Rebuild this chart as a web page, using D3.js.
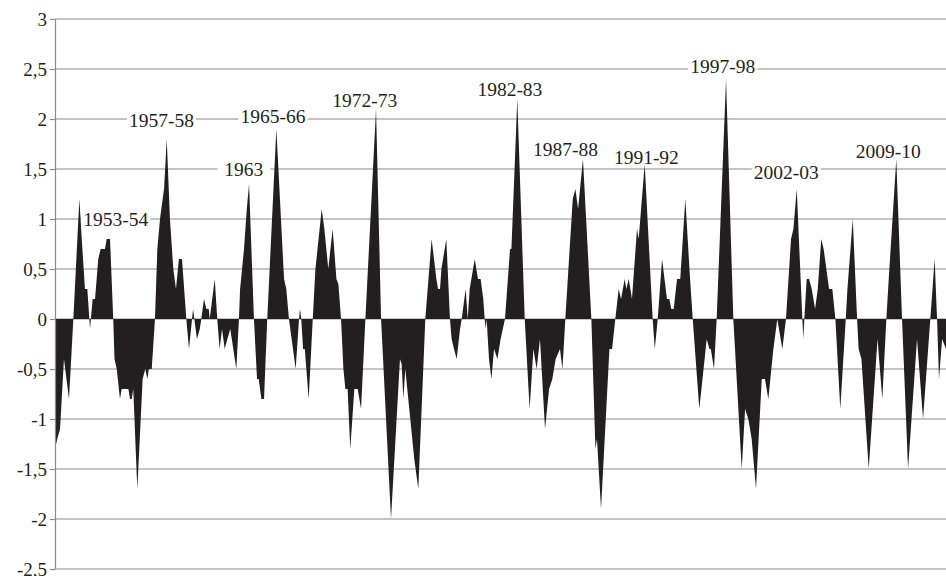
<!DOCTYPE html>
<html>
<head>
<meta charset="utf-8">
<script src="https://cdn.jsdelivr.net/npm/d3@7"></script>
<style>
  html, body { margin: 0; padding: 0; background: #fff; }
  svg { display: block; }
  svg text { font-family: "Liberation Serif", "Times New Roman", serif; }
</style>
</head>
<body>
<svg id="chart" width="946" height="576"></svg>
<script>
// ---- data (time in decimal years, anomaly values) ----
const years = [
  1950.00,1950.16,1950.36,1950.64,1951.00,1951.31,1951.74,1951.91,1952.14,1952.31,
  1952.50,1952.69,1952.86,1953.09,1953.26,1953.57,1953.69,1953.93,1954.16,1954.25,
  1954.41,1954.64,1954.76,1955.24,1955.36,1955.48,1955.59,1955.88,1956.26,1956.45,
  1956.60,1956.70,1956.91,1957.14,1957.31,1957.50,1957.69,1957.79,1957.98,1958.21,
  1958.45,1958.64,1958.85,1959.07,1959.38,1959.57,1959.86,1960.14,1960.34,1960.45,
  1960.64,1960.81,1960.98,1961.05,1961.41,1961.59,1961.76,1961.93,1962.12,1962.31,
  1962.52,1962.95,1963.14,1963.22,1963.50,1963.70,1963.86,1964.21,1964.43,1964.55,
  1964.74,1964.93,1965.16,1965.81,1966.36,1966.52,1966.71,1967.19,1967.43,1967.50,
  1967.59,1967.72,1967.84,1968.12,1968.41,1968.60,1969.05,1969.24,1969.52,1969.83,
  1970.10,1970.24,1970.43,1970.60,1970.74,1970.90,1971.09,1971.38,1971.62,1971.86,
  1972.17,1972.93,1973.29,1974.00,1974.64,1974.76,1974.88,1975.02,1975.66,1975.95,
  1976.45,1976.90,1977.07,1977.24,1977.36,1977.50,1977.60,1977.95,1978.21,1978.33,
  1978.50,1978.69,1978.93,1979.05,1979.33,1979.48,1979.62,1979.98,1980.21,1980.40,
  1980.59,1980.69,1980.76,1980.83,1981.00,1981.17,1981.36,1981.60,1981.83,1982.14,
  1982.50,1982.60,1983.02,1983.55,1983.90,1984.17,1984.40,1984.64,1985.00,1985.29,
  1985.52,1985.76,1986.07,1986.24,1986.33,1986.45,1986.98,1987.17,1987.36,1987.71,
  1988.31,1988.60,1988.71,1989.00,1989.60,1989.79,1990.02,1990.26,1990.43,1990.69,
  1990.81,1990.98,1991.21,1991.57,1991.69,1992.12,1992.69,1992.84,1993.05,1993.36,
  1993.71,1993.88,1994.02,1994.19,1994.43,1994.66,1995.02,1995.36,1995.55,1996.02,
  1996.55,1996.74,1996.84,1997.07,1997.26,1997.93,1998.45,1999.05,1999.29,1999.52,
  1999.76,2000.07,2000.48,2000.71,2000.95,2001.31,2001.59,2001.95,2002.21,2002.57,
  2002.74,2002.98,2003.38,2003.45,2003.52,2003.69,2003.86,2004.05,2004.29,2004.48,
  2004.73,2004.90,2005.29,2005.52,2005.74,2006.09,2006.48,2006.60,2006.98,2007.29,
  2007.40,2007.60,2008.12,2008.75,2009.09,2009.38,2009.55,2010.09,2010.50,2010.93,
  2011.57,2012.00,2012.52,2012.83,2013.00,2013.14,2013.36,2013.64
];
const values = [
  -1.3,-1.2,-1.1,-0.4,-0.8,0,1.2,0.8,0.3,0.3,
  -0.1,0.2,0.2,0.6,0.7,0.7,0.8,0.8,0,-0.4,
  -0.5,-0.8,-0.7,-0.7,-0.8,-0.8,-0.7,-1.7,-0.6,-0.5,
  -0.6,-0.5,-0.5,0,0.7,1.0,1.2,1.3,1.8,1.0,
  0.5,0.3,0.6,0.6,0,-0.3,0.1,-0.2,-0.1,0,
  0.2,0.1,0.1,0,0.4,0,-0.3,-0.1,-0.3,-0.2,
  -0.1,-0.5,0,0.3,0.7,1.1,1.35,0,-0.6,-0.6,
  -0.8,-0.8,0,1.9,0.4,0.3,0,-0.5,0,0.1,
  0,-0.3,-0.3,-0.8,0,0.5,1.1,0.9,0.5,0.9,
  0.4,0.35,0,-0.5,-0.7,-0.7,-1.3,-0.7,-0.7,-0.9,
  0,2.1,0,-2.0,-0.4,-0.45,-0.8,-0.5,-1.4,-1.7,
  0,0.8,0.6,0.4,0.3,0.3,0.5,0.8,0,-0.2,
  -0.3,-0.4,-0.1,0,0.3,0,0.3,0.6,0.4,0.4,
  0.2,0,-0.1,0,-0.4,-0.6,-0.3,-0.4,-0.2,0,
  0.7,0.7,2.2,0,-0.9,-0.3,-0.5,-0.2,-1.1,-0.7,
  -0.6,-0.4,-0.3,-0.5,-0.3,0,1.2,1.3,1.1,1.6,
  0,-1.3,-1.2,-1.9,-0.3,-0.3,0,0.3,0.2,0.4,
  0.3,0.4,0.2,0.9,0.8,1.55,0,-0.3,0,0.6,
  0.2,0.2,0.1,0.1,0.4,0.4,1.2,0.4,0,-0.9,
  -0.2,-0.3,-0.3,-0.5,0,2.4,0,-1.5,-0.9,-1.0,
  -1.2,-1.7,-0.6,-0.6,-0.8,-0.3,0,-0.3,0,0.8,
  0.9,1.3,0,-0.2,0,0.4,0.4,0.3,0.1,0.3,
  0.8,0.7,0.3,0.3,0,-0.9,0,0.3,1.0,0,
  -0.3,-0.4,-1.5,-0.2,-0.8,0,0.4,1.6,0,-1.5,
  -0.2,-1.0,0,0.6,0,-0.6,-0.2,-0.3
];
const yTicks = [-2.5, -2, -1.5, -1, -0.5, 0, 0.5, 1, 1.5, 2, 2.5, 3];

// event annotations: text, centre year, centre value
const eventLabels = ["1953-54","1957-58","\u00A01963\u00A0","1965-66","1972-73","1982-83","1987-88","1991-92","1997-98","2002-03","2009-10"];
const eventYears  = [1954.34, 1957.61, 1963.49, 1965.57, 1972.13, 1982.49, 1986.46, 1992.24, 1997.70, 2002.23, 2009.51];
const eventValues = [1.0, 1.99, 1.5, 2.03, 2.19, 2.3, 1.7, 1.62, 2.53, 1.47, 1.68];

// ---- drawing ----
const svg = d3.select("#chart");
const margin = { left: 55, top: 19, right: 0, bottom: 7 };
const W = 946, H = 576;

const x = d3.scaleLinear().domain([1950, 2013.64]).range([margin.left, W - margin.right]);
const y = d3.scaleLinear().domain([-2.5, 3]).range([H - margin.bottom, margin.top]);

// gridlines
svg.append("g").selectAll("line").data(yTicks).join("line")
  .attr("x1", x.range()[0]).attr("x2", x.range()[1])
  .attr("y1", d => y(d)).attr("y2", d => y(d))
  .attr("stroke", "#8a8a8a").attr("stroke-width", 1.2);

// area
const data = years.map((t, i) => ({ t, v: values[i] }));
const area = d3.area()
  .x(d => x(d.t))
  .y0(y(0))
  .y1(d => y(d.v));
svg.append("path").datum(data)
  .attr("d", area)
  .attr("fill", "#231f20");

// y axis
const yAxis = d3.axisLeft(y)
  .tickValues(yTicks)
  .tickSize(5)
  .tickSizeOuter(0)
  .tickPadding(3)
  .tickFormat(d => String(d).replace(".", ","));
const gy = svg.append("g")
  .attr("transform", `translate(${margin.left},0)`)
  .call(yAxis);
gy.attr("font-family", null).attr("font-size", null);
gy.select(".domain").attr("stroke", "#8a8a8a").attr("stroke-width", 1.2);
gy.selectAll(".tick line").attr("stroke", "#8a8a8a").attr("stroke-width", 1.2);
gy.selectAll(".tick text")
  .style("font-size", "19px").attr("fill", "#231f20");

// event labels with white background masking gridlines
const lg = svg.append("g");
eventLabels.forEach((txt, i) => {
  const g = lg.append("g");
  const rect = g.append("rect").attr("fill", "#fff");
  const t = g.append("text")
    .attr("x", x(eventYears[i]))
    .attr("y", y(eventValues[i]))
    .attr("text-anchor", "middle")
    .attr("dominant-baseline", "central")
    .style("font-size", "19.5px")
    .attr("fill", "#231f20")
    .style("white-space", "pre")
    .text(txt);
  const b = t.node().getBBox();
  rect.attr("x", b.x - 2).attr("y", b.y + 2).attr("width", b.width + 4).attr("height", b.height - 4);
});
</script>
</body>
</html>
